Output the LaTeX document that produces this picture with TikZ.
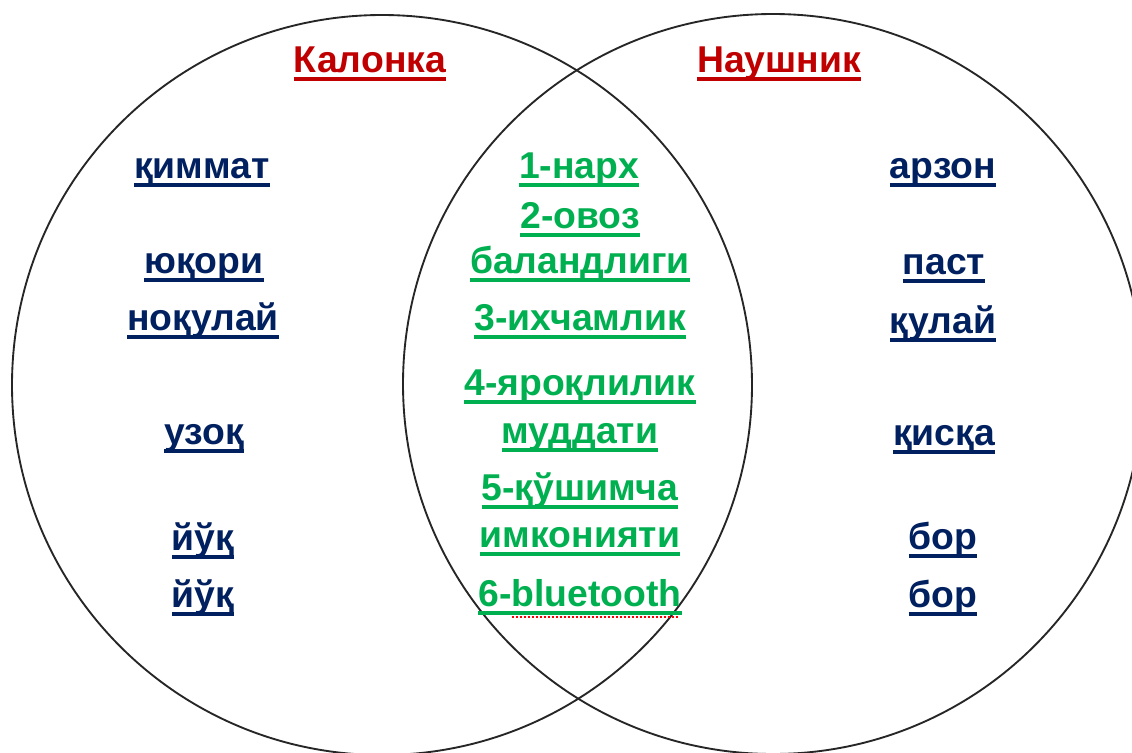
\documentclass[tikz,border=0pt]{standalone}
\usepackage{fontspec}
\setmainfont{Liberation Sans}
\definecolor{tred}{HTML}{C00000}
\definecolor{tblue}{HTML}{002060}
\definecolor{tgreen}{HTML}{00B050}
\newcommand\ulx[1]{\setbox0\hbox{#1}\rlap{\rule[-0.23em]{\wd0}{0.09em}}\box0}
\newcommand\spellx[1]{\setbox2\hbox{#1}\rlap{\color{red}\raisebox{-0.31em}{\leaders\hbox to 3pt{\rule{1.5pt}{0.9pt}\hss}\hskip\wd2}}\box2}
\tikzset{
  venn/.style={circle, draw=black!85, line width=1.4pt, minimum size=555pt, inner sep=0pt},
  lbl/.style={font=\fontsize{28}{33.75}\selectfont\bfseries, anchor=base, inner sep=0pt},
  ttl/.style={lbl, text=tred},
  side/.style={lbl, text=tblue},
  mid/.style={lbl, text=tgreen}
}
\begin{document}
\begin{tikzpicture}[x=0.75pt,y=-0.75pt]
\fill[white] (0,0) rectangle (1132,753);
\useasboundingbox (0,0) rectangle (1132,753);
\node[venn] (L) at (382,385) {};
\node[venn] (R) at (773,384) {};
\node[ttl] (tL) at (370,72) {\ulx{Калонка}};
\node[ttl] (tR) at (779,72) {\ulx{Наушник}};
\node[side] (l1) at (202,178) {\ulx{қиммат}};
\node[side] (l2) at (204,273) {\ulx{юқори}};
\node[side] (l3) at (203,330) {\ulx{ноқулай}};
\node[side] (l4) at (204,444) {\ulx{узоқ}};
\node[side] (l5) at (203,550) {\ulx{йўқ}};
\node[side] (l6) at (203,607) {\ulx{йўқ}};
\node[side] (r1) at (943,178) {\ulx{арзон}};
\node[side] (r2) at (944,274) {\ulx{паст}};
\node[side] (r3) at (943,333) {\ulx{қулай}};
\node[side] (r4) at (944,445) {\ulx{қисқа}};
\node[side] (r5) at (943,549) {\ulx{бор}};
\node[side] (r6) at (943,607) {\ulx{бор}};
\node[mid] (m1) at (579,178) {\ulx{1-нарх}};
\node[mid] (m2a) at (580,228) {\ulx{2-овоз}};
\node[mid] (m2b) at (580,273) {\ulx{баландлиги}};
\node[mid] (m3) at (580,330) {\ulx{3-ихчамлик}};
\node[mid] (m4a) at (580,395) {\ulx{4-яроқлилик}};
\node[mid] (m4b) at (580,443) {\ulx{муддати}};
\node[mid] (m5a) at (580,500) {\ulx{5-қўшимча}};
\node[mid] (m5b) at (580,547) {\ulx{имконияти}};
\node[mid] (m6) at (580,606) {\ulx{6-\spellx{bluetooth}}};
\end{tikzpicture}
\end{document}
